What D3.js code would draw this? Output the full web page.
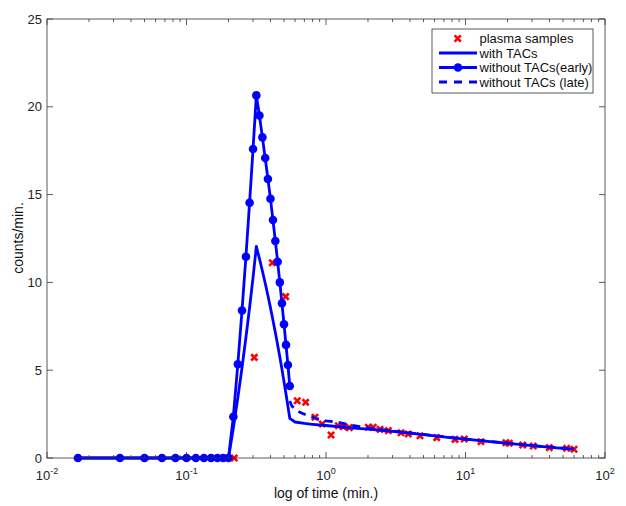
<!DOCTYPE html>
<html>
<head>
<meta charset="utf-8">
<script src="https://cdn.jsdelivr.net/npm/d3@7"></script>
<style>
  body { margin: 0; background: #fff; }
  text { font-family: "Liberation Sans", Arial, sans-serif; }
</style>
</head>
<body>
<div id="chart"></div>
<script>

// plasma samples (min., counts/min.)
const plasmaT = [0.22, 0.306, 0.412, 0.514, 0.622, 0.715, 0.834, 0.94, 1.087, 1.225, 1.33, 1.47,
  2.01, 2.18, 2.44, 2.80, 3.45, 3.89, 4.72, 6.22, 8.41, 9.8, 12.9, 19.5, 20.6, 25.7, 30.6, 39.9, 53.1, 60];
const plasmaV = [0, 5.73, 11.12, 9.19, 3.26, 3.17, 2.32, 1.94, 1.31, 1.84, 1.78, 1.73,
  1.75, 1.75, 1.63, 1.56, 1.44, 1.37, 1.27, 1.16, 1.06, 1.08, 0.93, 0.87, 0.84, 0.74, 0.68, 0.59, 0.55, 0.5];

// early frames, one every second (sec)
const earlySec = [1, 2, 3, 4, 5, 6, 7, 8, 9, 10, 11, 12, 13, 14, 15, 16, 17,
  18, 19, 20, 21, 22, 23, 24, 25, 26, 27, 28, 29, 30, 31, 32, 33];
const earlyV = [0, 0, 0, 0, 0, 0, 0, 0, 0, 0, 0, 0, 2.35, 5.34, 8.4, 11.46, 14.54,
  17.6, 20.65, 19.5, 18.26, 17.08, 15.89, 14.76, 13.55, 12.36, 11.18, 10.0, 8.81, 7.62, 6.44, 5.30, 4.1];

// with TACs: same early frames then the tail (min.)
const tacEarlyV = [0, 0, 0, 0, 0, 0, 0, 0, 0, 0, 0, 0, 1.71, 3.43, 5.14, 6.86, 8.57,
  10.29, 12.05, 11.35, 10.65, 9.95, 9.25, 8.55, 7.85, 7.15, 6.45, 5.75, 5.05, 4.35, 3.65, 2.95, 2.26];
const tacTailT = [0.6, 0.7, 0.8, 1, 1.5, 2, 3, 5, 8, 10, 15, 20, 30, 45, 60];
const tacTailV = [2.05, 1.97, 1.92, 1.85, 1.72, 1.65, 1.52, 1.33, 1.15, 1.07, 0.93, 0.84, 0.70, 0.58, 0.50];

// without TACs (late)
const lateT = [0.55, 0.57, 0.65, 0.72, 0.85, 1, 1.25, 1.5, 2, 3, 5, 8, 10, 15, 20, 30, 45, 60];
const lateV = [3.25, 2.95, 2.6, 2.45, 2.25, 2.12, 2.02, 1.88, 1.72, 1.54, 1.34, 1.16, 1.08, 0.94, 0.85, 0.71, 0.59, 0.51];

const yTicks = [0, 5, 10, 15, 20, 25];
const xDecades = [-2, -1, 0, 1, 2];
const legendNames = ["plasma samples", "with TACs", "without TACs(early)", "without TACs (late)"];

const W = 626, H = 506;
const x = d3.scaleLog().domain([0.01, 100]).range([47, 605]);
const y = d3.scaleLinear().domain([0, 25]).range([458, 19]);
const blue = "#0000ff", red = "#ff0000";

const svg = d3.select("#chart").append("svg")
    .attr("width", W).attr("height", H);

const toPts = (ts, vs) => ts.map((t, i) => [t, vs[i]]);
const early = toPts(earlySec.map(s => s / 60), earlyV);
const tac = toPts(earlySec.map(s => s / 60), tacEarlyV).concat(toPts(tacTailT, tacTailV));
const late = toPts(lateT, lateV);
const plasma = toPts(plasmaT, plasmaV);

const line = d3.line().x(d => x(d[0])).y(d => y(d[1]));

// red x marker path
function cross(g, cx, cy, r) {
  g.append("path")
    .attr("d", `M${cx - r},${cy - r}L${cx + r},${cy + r}M${cx - r},${cy + r}L${cx + r},${cy - r}`)
    .attr("stroke", red).attr("stroke-width", 2.6).attr("fill", "none");
}

const plot = svg.append("g");

// plasma samples
plasma.forEach(d => cross(plot, x(d[0]), y(d[1]), 3.1));

// with TACs
plot.append("path").datum(tac)
    .attr("d", line).attr("fill", "none")
    .attr("stroke", blue).attr("stroke-width", 2.8).attr("stroke-linejoin", "round");

// without TACs (early)
plot.append("path").datum(early)
    .attr("d", line).attr("fill", "none")
    .attr("stroke", blue).attr("stroke-width", 2.8).attr("stroke-linejoin", "round");
plot.selectAll(".dot").data(early).enter().append("circle")
    .attr("cx", d => x(d[0])).attr("cy", d => y(d[1]))
    .attr("r", 4.3).attr("fill", blue);

// without TACs (late)
plot.append("path").datum(late)
    .attr("d", line).attr("fill", "none")
    .attr("stroke", blue).attr("stroke-width", 2.8).attr("stroke-dasharray", "8,6");

// axes box with inward ticks on all sides
const ax = svg.append("g").attr("stroke", "#333").attr("stroke-width", 0.8);
ax.append("rect").attr("x", 47).attr("y", 19).attr("width", 558).attr("height", 439)
    .attr("fill", "none");

const minor = [];
xDecades.slice(0, -1).forEach(e => {
  for (let m = 2; m <= 9; m++) minor.push(m * Math.pow(10, e));
});
xDecades.forEach(e => {
  const px = x(Math.pow(10, e));
  ax.append("line").attr("x1", px).attr("x2", px).attr("y1", 458).attr("y2", 452);
  ax.append("line").attr("x1", px).attr("x2", px).attr("y1", 19).attr("y2", 25);
});
minor.forEach(v => {
  const px = x(v);
  ax.append("line").attr("x1", px).attr("x2", px).attr("y1", 458).attr("y2", 455);
  ax.append("line").attr("x1", px).attr("x2", px).attr("y1", 19).attr("y2", 22);
});
yTicks.forEach(v => {
  const py = y(v);
  ax.append("line").attr("x1", 47).attr("x2", 53).attr("y1", py).attr("y2", py);
  ax.append("line").attr("x1", 605).attr("x2", 599).attr("y1", py).attr("y2", py);
});

// tick labels
svg.selectAll(".ylab").data(yTicks).enter().append("text")
    .attr("x", 42).attr("y", d => y(d)).attr("dy", "0.35em")
    .attr("text-anchor", "end").attr("font-size", 13).attr("fill", "#222")
    .text(d => d);

xDecades.forEach(e => {
  const t = svg.append("text")
      .attr("x", x(Math.pow(10, e))).attr("y", 480)
      .attr("text-anchor", "middle").attr("font-size", 13).attr("fill", "#222");
  t.append("tspan").text("10");
  t.append("tspan").attr("dy", -6).attr("font-size", 9).text(e);
});

// axis titles
svg.append("text").attr("x", 326).attr("y", 498)
    .attr("text-anchor", "middle").attr("font-size", 14).attr("fill", "#111")
    .text("log of time (min.)");
svg.append("text").attr("transform", "translate(23,238) rotate(-90)")
    .attr("text-anchor", "middle").attr("font-size", 14).attr("fill", "#111")
    .text("counts/min.");

// legend
const lg = svg.append("g");
lg.append("rect").attr("x", 432).attr("y", 29).attr("width", 161).attr("height", 64)
    .attr("fill", "#fff").attr("stroke", "#333").attr("stroke-width", 0.8);
legendNames.forEach((name, i) => {
  const ry = 38.5 + i * 14.5;
  if (i === 0) {
    cross(lg, 457.7, ry, 3.1);
  } else {
    const l = lg.append("line").attr("x1", 439).attr("x2", 477).attr("y1", ry).attr("y2", ry)
        .attr("stroke", blue).attr("stroke-width", 2.8);
    if (i === 3) l.attr("stroke-dasharray", "8,7");
    if (i === 2) lg.append("circle").attr("cx", 458).attr("cy", ry).attr("r", 4.3).attr("fill", blue);
  }
  lg.append("text").attr("x", 479.5).attr("y", ry).attr("dy", "0.35em")
      .attr("font-size", 13).attr("fill", "#111").text(name);
});

</script>
</body>
</html>
